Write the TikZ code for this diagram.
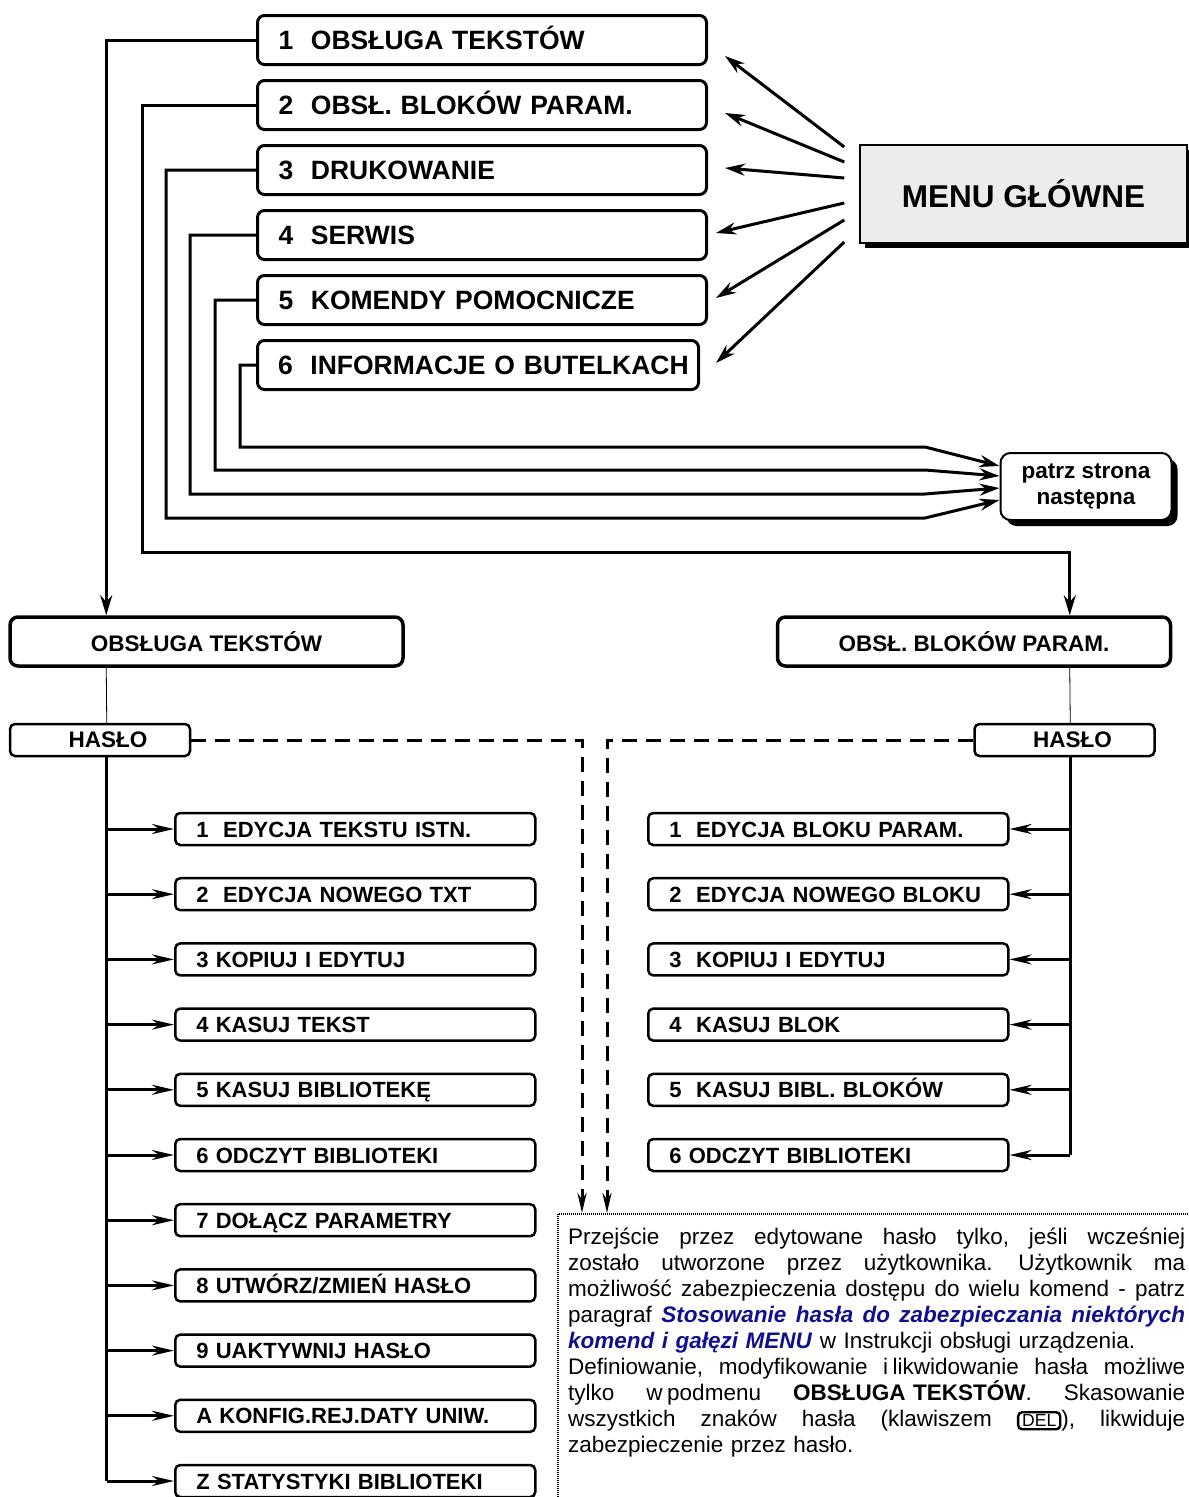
\documentclass[tikz,border=0pt]{standalone}
\usepackage{fontspec}
\setmainfont{Liberation Sans}
\usetikzlibrary{arrows.meta,positioning,shadows}

\definecolor{linkblue}{RGB}{16,16,140}
\newcommand{\pxfont}[2]{\fontsize{#1}{#2}\selectfont}
\newcommand{\linkt}[1]{\textcolor{linkblue}{\textbf{\textit{#1}}}}
\newcommand{\jg}{\hspace{0pt plus 1fil}}
\newcommand{\jline}[1]{\leavevmode\hbox to 617pt{#1}}
\newcommand{\delkey}{\tikz[baseline=(k.base)]\node[draw, line width=2.4pt, rounded corners=4pt, inner xsep=4pt, inner ysep=2.5pt, font=\pxfont{17.5}{18}] (k) {DEL};}

\begin{document}
\begin{tikzpicture}[x=1pt, y=-1pt,
  node distance=13pt,
  mitem/.style={draw, line width=3pt, rounded corners=7pt, minimum height=49pt, text width=407pt, text height=24pt, text depth=5pt, inner xsep=21pt, inner ysep=0pt, align=left, font=\pxfont{26.5}{30}\bfseries},
  big/.style={draw, line width=3.5pt, rounded corners=8pt, minimum width=393pt, minimum height=49pt, font=\pxfont{22.5}{26}\bfseries},
  pass/.style={draw, line width=2.5pt, rounded corners=5pt, minimum width=180pt, minimum height=32pt, inner sep=0pt, font=\pxfont{22.5}{26}\bfseries},
  sub/.style={draw, line width=2.5pt, rounded corners=5pt, minimum height=32pt, text width=318pt, text height=20pt, text depth=4pt, inner xsep=21pt, inner ysep=0pt, align=left, font=\pxfont{22}{26}\bfseries},
  arr/.style={-{Stealth[length=20pt, width=12pt]}, line width=3pt},
  sarr/.style={-{Stealth[length=22pt, width=10pt]}, line width=3pt},
  thinl/.style={line width=0.8pt},
  dsh/.style={line width=3pt, dash pattern=on 15pt off 9pt}
]
\useasboundingbox (0,0) rectangle (1189,1497);

% menu glowne
\node[mitem, anchor=north west] (m1) at (256,14) {1\ \ OBSŁUGA TEKSTÓW};
\node[mitem, below=of m1] (m2) {2\ \ OBSŁ. BLOKÓW PARAM.};
\node[mitem, below=of m2] (m3) {3\ \ DRUKOWANIE};
\node[mitem, below=of m3] (m4) {4\ \ SERWIS};
\node[mitem, below=of m4] (m5) {5\ \ KOMENDY POMOCNICZE};
\node[mitem, text width=400pt, inner xsep=20.5pt, below=13pt of m5.south west, anchor=north west] (m6) {\mbox{6\ \ INFORMACJE O BUTELKACH}};

\node[draw, line width=1.5pt, fill=gray!15, minimum width=327pt, minimum height=98pt, font=\pxfont{31.5}{36}\bfseries,
  drop shadow={shadow xshift=5pt, shadow yshift=-5pt, fill=black, opacity=1}] (menu) at (1023.5,194) {MENU GŁÓWNE};

\node[draw, line width=2pt, rounded corners=10pt, fill=white, minimum width=171pt, minimum height=67pt, align=center, font=\pxfont{22.5}{26}\bfseries,
  drop shadow={shadow xshift=6pt, shadow yshift=-6pt, fill=black, opacity=1}] (pa) at (1086,486.5) {patrz strona\\następna};

\draw[arr] ([shift={(-15,-47)}]menu.west) -- ([shift={(17,16)}]m1.east);
\draw[arr] ([shift={(-15,-32)}]menu.west) -- ([shift={(17,8)}]m2.east);
\draw[arr] ([shift={(-15,-16)}]menu.west) -- ([shift={(17,-2)}]m3.east);
\draw[arr] ([shift={(-15,9)}]menu.west) -- ([shift={(8,-2)}]m4.east);
\draw[arr] ([shift={(-15,26)}]menu.west) -- ([shift={(8,-2)}]m5.east);
\draw[arr] ([shift={(-15,48)}]menu.west) -- ([shift={(16,-2)}]m6.east);

% podmenu
\node[big] (ot) at (206.5,641.5) {OBSŁUGA TEKSTÓW};
\node[big] (ob) at (974,641.5) {OBSŁ. BLOKÓW PARAM.};
\node[pass] (hl) at (100,740) {\hspace{16pt}HASŁO};
\node[pass] (hr) at (1064.5,740) {\hspace{16pt}HASŁO};

\draw[arr] (m1.west) -| ([xshift=98pt]ot.north west);
\draw[arr] (m2.west) -| (142,552) -| ([xshift=294pt]ob.north west);
\draw[arr] (m3.west) -| (166,518) -- (925,518) -- ([shift={(0,13.5)}]pa.west);
\draw[arr] (m4.west) -| (190,494) -- (925,494) -- ([shift={(0,1.5)}]pa.west);
\draw[arr] (m5.west) -| (215,470) -- (925,470) -- ([shift={(0,-10.5)}]pa.west);
\draw[arr] (m6.west) -| (240,447) -- (925,447) -- ([shift={(0,-20.5)}]pa.west);

\draw[thinl] ([xshift=98pt]ot.south west) -- ([xshift=98pt]hl.north west);
\draw[thinl] ([xshift=294pt]ob.south west) -- ([xshift=97pt]hr.north west);

% obsluga tekstow
\node[sub, anchor=west] (l1) at (174,829) {1\ \ EDYCJA TEKSTU ISTN.};
\node[sub, below=30.7pt of l1] (l2) {2\ \ EDYCJA NOWEGO TXT};
\node[sub, below=30.7pt of l2] (l3) {3 KOPIUJ I EDYTUJ};
\node[sub, below=30.7pt of l3] (l4) {4 KASUJ TEKST};
\node[sub, below=30.7pt of l4] (l5) {5 KASUJ BIBLIOTEKĘ};
\node[sub, below=30.7pt of l5] (l6) {6 ODCZYT BIBLIOTEKI};
\node[sub, below=30.7pt of l6] (l7) {7 DOŁĄCZ PARAMETRY};
\node[sub, below=30.7pt of l7] (l8) {8 UTWÓRZ/ZMIEŃ HASŁO};
\node[sub, below=30.7pt of l8] (l9) {9 UAKTYWNIJ HASŁO};
\node[sub, below=30.7pt of l9] (l10) {A KONFIG.REJ.DATY UNIW.};
\node[sub, below=30.7pt of l10] (l11) {Z STATYSTYKI BIBLIOTEKI};

\coordinate (lt) at ([xshift=98pt]hl.south west);
\draw[line width=3pt] (lt) -- (lt |- l11.west);
\draw[sarr] (lt |- l1.west) -- (l1.west);
\draw[sarr] (lt |- l2.west) -- (l2.west);
\draw[sarr] (lt |- l3.west) -- (l3.west);
\draw[sarr] (lt |- l4.west) -- (l4.west);
\draw[sarr] (lt |- l5.west) -- (l5.west);
\draw[sarr] (lt |- l6.west) -- (l6.west);
\draw[sarr] (lt |- l7.west) -- (l7.west);
\draw[sarr] (lt |- l8.west) -- (l8.west);
\draw[sarr] (lt |- l9.west) -- (l9.west);
\draw[sarr] (lt |- l10.west) -- (l10.west);
\draw[sarr] (lt |- l11.west) -- (l11.west);

% bloki parametrow
\node[sub, anchor=west] (r1) at (647,829) {1\ \ EDYCJA BLOKU PARAM.};
\node[sub, below=30.7pt of r1] (r2) {2\ \ EDYCJA NOWEGO BLOKU};
\node[sub, below=30.7pt of r2] (r3) {3\ \ KOPIUJ I EDYTUJ};
\node[sub, below=30.7pt of r3] (r4) {4\ \ KASUJ BLOK};
\node[sub, below=30.7pt of r4] (r5) {5\ \ KASUJ BIBL. BLOKÓW};
\node[sub, below=30.7pt of r5] (r6) {6 ODCZYT BIBLIOTEKI};

\coordinate (rt) at ([xshift=97pt]hr.south west);
\draw[line width=3pt] (rt) -- (rt |- r6.east);
\draw[sarr] (rt |- r1.east) -- (r1.east);
\draw[sarr] (rt |- r2.east) -- (r2.east);
\draw[sarr] (rt |- r3.east) -- (r3.east);
\draw[sarr] (rt |- r4.east) -- (r4.east);
\draw[sarr] (rt |- r5.east) -- (r5.east);
\draw[sarr] (rt |- r6.east) -- (r6.east);

% uwaga o hasle
\node[draw, line width=2pt, dash pattern=on 1pt off 1pt, minimum width=645pt, minimum height=300pt, anchor=north west] (nb) at (557,1213) {};
\draw[dsh, -{Stealth[length=20pt, width=9pt]}] (hl.east) -| ([xshift=25pt]nb.north west);
\draw[dsh, -{Stealth[length=20pt, width=9pt]}] (hr.west) -| ([xshift=50pt]nb.north west);

\node[anchor=north west, text width=617pt, inner sep=0pt, align=left, font=\pxfont{22.5}{26}] (nt) at (568,1228) {%
\jline{Przejście \jg przez \jg edytowane \jg hasło \jg tylko, \jg jeśli \jg wcześniej}\\
\jline{zostało \jg utworzone \jg przez \jg użytkownika. \jg Użytkownik \jg ma}\\
\jline{możliwość \jg zabezpieczenia \jg dostępu \jg do \jg wielu \jg komend \jg - \jg patrz}\\
\jline{paragraf \jg \linkt{Stosowanie \jg hasła \jg do \jg zabezpieczania \jg niektórych}}\\
\linkt{komend i gałęzi MENU} w Instrukcji obsługi urządzenia.\\
\jline{Definiowanie, \jg modyfikowanie \jg i\hspace{.2em}likwidowanie \jg hasła \jg możliwe}\\
\jline{tylko \jg w\hspace{.2em}podmenu \jg \textbf{OBSŁUGA TEKSTÓW}. \jg Skasowanie}\\
\jline{wszystkich \jg znaków \jg hasła \jg (klawiszem \jg \delkey), \jg likwiduje}\\
zabezpieczenie przez hasło.};
\end{tikzpicture}
\end{document}
